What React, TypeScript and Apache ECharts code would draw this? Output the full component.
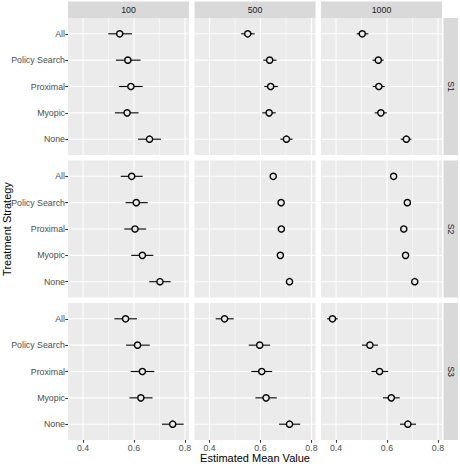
import React, { useEffect, useRef } from "react";
import * as echarts from "echarts";

const categories = ["All", "Policy Search", "Proximal", "Myopic", "None"];
const sizes = ["100", "500", "1000"];
const scenarios = ["S1", "S2", "S3"];

const xMajor = [0.4, 0.6, 0.8];
const xMinor = [0.5, 0.7];

// S1
const s1n100Est = [0.544, 0.576, 0.588, 0.573, 0.661];
const s1n100Lo = [0.499, 0.529, 0.541, 0.525, 0.616];
const s1n100Hi = [0.592, 0.626, 0.634, 0.618, 0.706];
const s1n500Est = [0.55, 0.636, 0.64, 0.634, 0.702];
const s1n500Lo = [0.524, 0.611, 0.615, 0.607, 0.678];
const s1n500Hi = [0.577, 0.663, 0.668, 0.66, 0.726];
const s1n1000Est = [0.503, 0.566, 0.568, 0.576, 0.676];
const s1n1000Lo = [0.481, 0.543, 0.544, 0.552, 0.654];
const s1n1000Hi = [0.527, 0.587, 0.591, 0.599, 0.696];
// S2
const s2n100Est = [0.591, 0.609, 0.604, 0.633, 0.702];
const s2n100Lo = [0.548, 0.567, 0.562, 0.589, 0.66];
const s2n100Hi = [0.634, 0.654, 0.648, 0.676, 0.744];
const s2n500Est = [0.65, 0.681, 0.682, 0.678, 0.714];
const s2n500Lo = [0.638, 0.669, 0.67, 0.666, 0.702];
const s2n500Hi = [0.662, 0.693, 0.694, 0.69, 0.726];
const s2n1000Est = [0.626, 0.68, 0.666, 0.673, 0.709];
const s2n1000Lo = [0.614, 0.668, 0.654, 0.661, 0.697];
const s2n1000Hi = [0.638, 0.692, 0.678, 0.685, 0.721];
// S3
const s3n100Est = [0.567, 0.614, 0.633, 0.627, 0.752];
const s3n100Lo = [0.523, 0.569, 0.587, 0.582, 0.71];
const s3n100Hi = [0.612, 0.662, 0.68, 0.673, 0.795];
const s3n500Est = [0.459, 0.597, 0.605, 0.622, 0.714];
const s3n500Lo = [0.424, 0.554, 0.564, 0.58, 0.673];
const s3n500Hi = [0.495, 0.638, 0.646, 0.664, 0.756];
const s3n1000Est = [0.386, 0.533, 0.571, 0.617, 0.682];
const s3n1000Lo = [0.365, 0.502, 0.539, 0.584, 0.651];
const s3n1000Hi = [0.407, 0.565, 0.605, 0.65, 0.714];

const panelData = [
  [s1n100Est, s1n100Lo, s1n100Hi],
  [s1n500Est, s1n500Lo, s1n500Hi],
  [s1n1000Est, s1n1000Lo, s1n1000Hi],
  [s2n100Est, s2n100Lo, s2n100Hi],
  [s2n500Est, s2n500Lo, s2n500Hi],
  [s2n1000Est, s2n1000Lo, s2n1000Hi],
  [s3n100Est, s3n100Lo, s3n100Hi],
  [s3n500Est, s3n500Lo, s3n500Hi],
  [s3n1000Est, s3n1000Lo, s3n1000Hi],
];

const FONT = "Liberation Sans, Arial, sans-serif";
const colLeft = [68, 194.5, 321];
const panelW = 121;
const rowTop = [18, 160.5, 303];
const panelH = 137;
const BG = "#EBEBEB";

export default function App() {
  const ref = useRef<HTMLDivElement>(null);
  useEffect(() => {
    if (!ref.current) return;
    const chart = echarts.init(ref.current, null, { renderer: "svg" });
    const grids: any[] = [];
    const xAxes: any[] = [];
    const yAxes: any[] = [];
    const series: any[] = [];
    const catIdx = categories.map((_, i) => i + 1);
    for (let r = 0; r < 3; r++) {
      for (let c = 0; c < 3; c++) {
        const i = r * 3 + c;
        grids.push({
          left: colLeft[c],
          top: rowTop[r],
          width: panelW,
          height: panelH,
          show: true,
          backgroundColor: BG,
          borderWidth: 0,
        });
        xAxes.push({
          gridIndex: i,
          type: "value",
          min: 0.341,
          max: 0.816,
          axisLine: { show: false },
          splitLine: { show: false },
          axisTick: {
            show: r === 2,
            length: 2.75,
            lineStyle: { color: "#333333", width: 1.07 },
            customValues: xMajor,
          },
          axisLabel: {
            show: r === 2,
            customValues: xMajor,
            formatter: (v: number) => v.toFixed(1),
            color: "#4D4D4D",
            fontSize: 8.8,
            margin: 3,
            fontFamily: FONT,
          },
        });
        yAxes.push({
          gridIndex: i,
          type: "value",
          inverse: true,
          min: 0.4,
          max: 5.6,
          axisLine: { show: false },
          splitLine: { show: false },
          axisTick: {
            show: c === 0,
            length: 2.75,
            lineStyle: { color: "#333333", width: 1.07 },
            customValues: catIdx,
          },
          axisLabel: {
            show: c === 0,
            customValues: catIdx,
            formatter: (v: number) => categories[Math.round(v) - 1] ?? "",
            color: "#4D4D4D",
            fontSize: 8.8,
            margin: 3,
            fontFamily: FONT,
          },
        });
        const gridItems: any[] = [];
        xMajor.forEach((v) => gridItems.push([v, 0]));
        xMinor.forEach((v) => gridItems.push([v, 1]));
        catIdx.forEach((v) => gridItems.push([v, 2]));
        series.push({
          type: "custom",
          xAxisIndex: i,
          yAxisIndex: i,
          z: 1,
          silent: true,
          clip: false,
          encode: { x: 0 },
          data: gridItems,
          renderItem: (params: any, api: any) => {
            const cs = params.coordSys;
            const v = api.value(0);
            const kind = api.value(1);
            if (kind === 2) {
              const p = api.coord([0.5, v]);
              return {
                type: "line",
                shape: { x1: cs.x, y1: p[1], x2: cs.x + cs.width, y2: p[1] },
                style: { stroke: "#FFFFFF", lineWidth: 1.07 },
              };
            }
            const p = api.coord([v, 3]);
            return {
              type: "line",
              shape: { x1: p[0], y1: cs.y, x2: p[0], y2: cs.y + cs.height },
              style: { stroke: "#FFFFFF", lineWidth: kind === 0 ? 1.07 : 0.53 },
            };
          },
        });
        const [est, lo, hi] = panelData[i];
        series.push({
          type: "custom",
          xAxisIndex: i,
          yAxisIndex: i,
          z: 2,
          silent: true,
          encode: { x: [0, 1], y: 2 },
          data: lo.map((l, k) => [l, hi[k], k + 1]),
          renderItem: (params: any, api: any) => {
            const a = api.coord([api.value(0), api.value(2)]);
            const b = api.coord([api.value(1), api.value(2)]);
            return {
              type: "line",
              shape: { x1: a[0], y1: a[1], x2: b[0], y2: b[1] },
              style: { stroke: "#000000", lineWidth: 1.1 },
            };
          },
        });
        series.push({
          type: "scatter",
          xAxisIndex: i,
          yAxisIndex: i,
          z: 3,
          silent: true,
          symbol: "circle",
          symbolSize: 6.2,
          itemStyle: { color: BG, borderColor: "#000000", borderWidth: 1.4, opacity: 1 },
          data: est.map((e, k) => [e, k + 1]),
        });
      }
    }
    const graphics: any[] = [];
    sizes.forEach((s, c) => {
      graphics.push({
        type: "rect",
        shape: { x: colLeft[c], y: 1.5, width: panelW, height: rowTop[0] - 1.5 },
        style: { fill: "#D9D9D9" },
      });
      graphics.push({
        type: "text",
        x: colLeft[c] + panelW / 2,
        y: (1.5 + rowTop[0]) / 2,
        style: {
          text: s,
          fill: "#1A1A1A",
          fontSize: 8.8,
          fontFamily: FONT,
          align: "center",
          verticalAlign: "middle",
        },
      });
    });
    const stripX = colLeft[2] + panelW + 1.5;
    const stripW = 458 - stripX;
    scenarios.forEach((s, r) => {
      graphics.push({
        type: "rect",
        shape: { x: stripX, y: rowTop[r], width: stripW, height: panelH },
        style: { fill: "#D9D9D9" },
      });
      graphics.push({
        type: "text",
        x: stripX + stripW / 2,
        y: rowTop[r] + panelH / 2,
        rotation: -Math.PI / 2,
        style: {
          text: s,
          fill: "#1A1A1A",
          fontSize: 8.8,
          fontFamily: FONT,
          align: "center",
          verticalAlign: "middle",
        },
      });
    });
    graphics.push({
      type: "text",
      x: (colLeft[0] + colLeft[2] + panelW) / 2,
      y: 458,
      style: {
        text: "Estimated Mean Value",
        fill: "#000000",
        fontSize: 11,
        fontFamily: FONT,
        align: "center",
        verticalAlign: "middle",
      },
    });
    graphics.push({
      type: "text",
      x: 6.5,
      y: (rowTop[0] + rowTop[2] + panelH) / 2,
      rotation: Math.PI / 2,
      style: {
        text: "Treatment Strategy",
        fill: "#000000",
        fontSize: 11,
        fontFamily: FONT,
        align: "center",
        verticalAlign: "middle",
      },
    });
    chart.setOption({
      animation: false,
      backgroundColor: "#FFFFFF",
      grid: grids,
      xAxis: xAxes,
      yAxis: yAxes,
      series,
      graphic: graphics,
    });
    return () => chart.dispose();
  }, []);
  return (
    <div
      ref={ref}
      style={{ position: "absolute", left: 0, top: 0, width: 460, height: 464 }}
    />
  );
}
